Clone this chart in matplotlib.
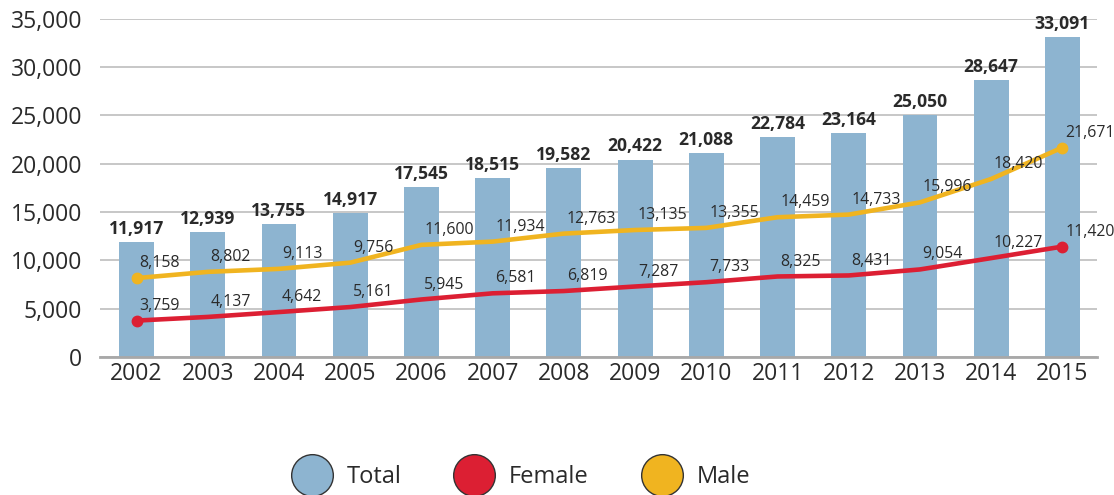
import matplotlib.pyplot as plt
from matplotlib.lines import Line2D
import numpy as np

plt.rcParams['font.family'] = ['Open Sans', 'DejaVu Sans']

years = ['2002', '2003', '2004', '2005', '2006', '2007', '2008',
         '2009', '2010', '2011', '2012', '2013', '2014', '2015']
total = [11917, 12939, 13755, 14917, 17545, 18515, 19582,
         20422, 21088, 22784, 23164, 25050, 28647, 33091]
male = [8158, 8802, 9113, 9756, 11600, 11934, 12763,
        13135, 13355, 14459, 14733, 15996, 18420, 21671]
female = [3759, 4137, 4642, 5161, 5945, 6581, 6819,
          7287, 7733, 8325, 8431, 9054, 10227, 11420]

c_total = '#8db4d0'
c_female = '#dc1f33'
c_male = '#f0b420'
txt = '#2a2a2a'

fig = plt.figure(figsize=(11.14, 4.95), dpi=100)
ax = fig.add_axes([0.09, 0.279, 0.895, 0.683])
x = np.arange(len(years))

ax.bar(x, total, width=0.49, color=c_total, zorder=2)
for xi, v in zip(x, total):
    ax.annotate(f'{v:,}', (xi, v), xytext=(0, 3), textcoords='offset points',
                ha='center', va='bottom', fontsize=12.6, fontweight='bold', color=txt)

for vals, col in [(male, c_male), (female, c_female)]:
    ax.plot(x, vals, color=col, lw=3.3, solid_joinstyle='round', solid_capstyle='round',
            marker='o', markersize=7.5, markevery=[0, len(x) - 1], zorder=3)
    for xi, v in zip(x, vals):
        ax.annotate(f'{v:,}', (xi, v), xytext=(2, 5), textcoords='offset points',
                    ha='left', va='bottom', fontsize=11.4, color=txt, zorder=4)

ax.set_ylim(0, 35000)
ax.set_xlim(-0.51, 13.49)
ax.set_yticks(np.arange(0, 35001, 5000))
ax.set_yticklabels([f'{v:,}' for v in range(0, 35001, 5000)])
ax.set_xticks(x)
ax.set_xticklabels(years)
ax.tick_params(axis='both', length=0, labelsize=16.5, labelcolor=txt)
ax.tick_params(axis='y', pad=13)
ax.tick_params(axis='x', pad=4)
ax.grid(axis='y', color='#b8b8b8', lw=1.1, zorder=0)
ax.set_axisbelow(True)
for s in ['top', 'right', 'left']:
    ax.spines[s].set_visible(False)
ax.spines['bottom'].set_color('#a8a8a8')
ax.spines['bottom'].set_linewidth(2)

handles = [Line2D([], [], ls='none', marker='o', markersize=30, markerfacecolor=c,
                  markeredgecolor='#333333', markeredgewidth=1) for c in (c_total, c_female, c_male)]
fig.legend(handles, ['Total', 'Female', 'Male'], loc='center', bbox_to_anchor=(0.466, 0.036),
           ncol=3, frameon=False, fontsize=17, handlelength=2, handletextpad=0.46,
           columnspacing=2.1, labelcolor=txt, borderpad=0)

fig.savefig('out.png', dpi=100)
